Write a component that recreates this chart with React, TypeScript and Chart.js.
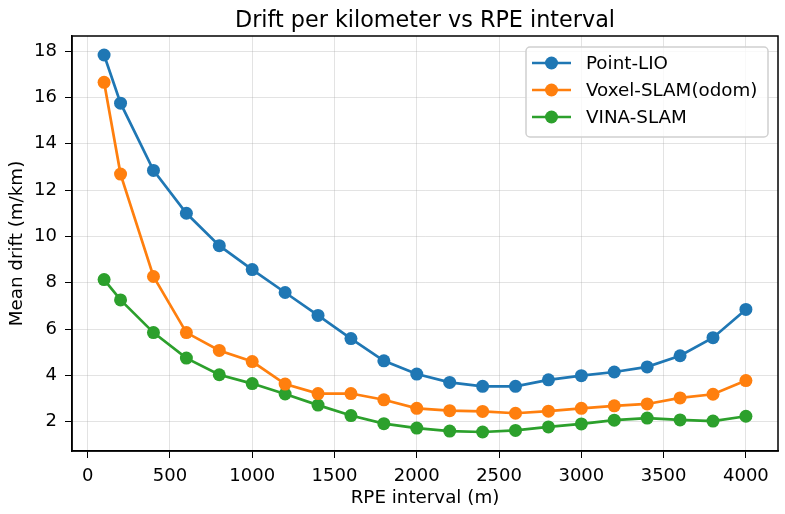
import React, { useEffect, useRef } from "react";
import { Chart, registerables } from "chart.js";

Chart.register(...registerables);

const rpeIntervals = [100, 200, 400, 600, 800, 1000, 1200, 1400, 1600, 1800, 2000, 2200, 2400, 2600, 2800, 3000, 3200, 3400, 3600, 3800, 4000];
const pointLio = [17.83, 15.75, 12.85, 11.0, 9.6, 8.57, 7.58, 6.59, 5.59, 4.63, 4.06, 3.7, 3.53, 3.53, 3.81, 3.99, 4.15, 4.37, 4.85, 5.63, 6.85];
const voxelSlam = [16.65, 12.69, 8.27, 5.85, 5.08, 4.6, 3.63, 3.22, 3.22, 2.95, 2.58, 2.48, 2.45, 2.37, 2.46, 2.58, 2.69, 2.77, 3.03, 3.19, 3.78];
const vinaSlam = [8.14, 7.26, 5.85, 4.75, 4.03, 3.65, 3.2, 2.72, 2.27, 1.92, 1.73, 1.6, 1.56, 1.63, 1.78, 1.91, 2.07, 2.16, 2.08, 2.03, 2.24];
const xTicks = [0, 500, 1000, 1500, 2000, 2500, 3000, 3500, 4000];
const yTicks = [2, 4, 6, 8, 10, 12, 14, 16, 18];
const seriesNames = ["Point-LIO", "Voxel-SLAM(odom)", "VINA-SLAM"];
const seriesColors = ["#1f77b4", "#ff7f0e", "#2ca02c"];
const titleText = "Drift per kilometer vs RPE interval";
const xLabel = "RPE interval (m)";
const yLabel = "Mean drift (m/km)";

const FONT = "'DejaVu Sans', sans-serif";

export default function App() {
  const ref = useRef<HTMLCanvasElement | null>(null);
  useEffect(() => {
    document.body.style.margin = "0";
    const canvas = ref.current;
    if (!canvas) return;
    const allSeries = [pointLio, voxelSlam, vinaSlam];
    const datasets = allSeries.map((s, i) => ({
      label: seriesNames[i],
      data: s.map((v, j) => ({ x: rpeIntervals[j], y: v })),
      borderColor: seriesColors[i],
      backgroundColor: seriesColors[i],
      borderWidth: 2.7,
      pointRadius: 6.5,
      pointBorderWidth: 0,
      pointHoverRadius: 6.5,
      tension: 0,
    }));

    const framePlugin = {
      id: "frame",
      afterDatasetsDraw(chart: any) {
        const { ctx, chartArea } = chart;
        ctx.save();
        ctx.strokeStyle = "#000";
        ctx.lineWidth = 1.5;
        ctx.strokeRect(chartArea.left, chartArea.top, chartArea.right - chartArea.left, chartArea.bottom - chartArea.top);
        // title
        ctx.fillStyle = "#000";
        ctx.font = `22.3px ${FONT}`;
        ctx.textAlign = "center";
        ctx.textBaseline = "alphabetic";
        ctx.fillText(titleText, (chartArea.left + chartArea.right) / 2, 27);
        // legend
        const bx = 526, by = 47, bw = 242, bh = 90;
        ctx.fillStyle = "rgba(255,255,255,0.8)";
        ctx.strokeStyle = "#d0d0d0";
        ctx.lineWidth = 1.5;
        ctx.beginPath();
        (ctx as any).roundRect(bx, by, bw, bh, 4);
        ctx.fill();
        ctx.stroke();
        const rows = [63, 90, 117];
        ctx.font = `18.3px ${FONT}`;
        ctx.textAlign = "left";
        ctx.textBaseline = "middle";
        seriesNames.forEach((n, i) => {
          ctx.strokeStyle = seriesColors[i];
          ctx.lineWidth = 2.7;
          ctx.beginPath();
          ctx.moveTo(532, rows[i]);
          ctx.lineTo(571, rows[i]);
          ctx.stroke();
          ctx.fillStyle = seriesColors[i];
          ctx.beginPath();
          ctx.arc(551.5, rows[i], 6.5, 0, Math.PI * 2);
          ctx.fill();
          ctx.fillStyle = "#000";
          ctx.fillText(n, 586, rows[i] + 1);
        });
        ctx.restore();
      },
    };

    const chart = new Chart(canvas, {
      type: "line",
      data: { datasets },
      plugins: [framePlugin],
      options: {
        animation: false,
        responsive: false,
        maintainAspectRatio: false,
        devicePixelRatio: 1,
        layout: { padding: { top: 36, right: 7, left: 0, bottom: 0 } },
        plugins: {
          legend: { display: false },
          title: { display: false },
          tooltip: { enabled: false },
        },
        scales: {
          x: {
            type: "linear",
            min: -95,
            max: 4195,
            afterBuildTicks: (scale: any) => {
              scale.ticks = xTicks.map((v) => ({ value: v }));
            },
            afterFit: (scale: any) => {
              scale.height = 63;
            },
            grid: {
              color: "rgba(176,176,176,0.35)",
              lineWidth: 1,
              tickColor: "#000",
              tickLength: 7,
            },
            border: { color: "#000", width: 1.5 },
            ticks: {
              color: "#000",
              font: { family: FONT, size: 18 },
              padding: 8,
              maxRotation: 0,
              autoSkip: false,
              callback: (v: any) => String(v),
            },
            title: {
              display: true,
              text: xLabel,
              color: "#000",
              font: { family: FONT, size: 18.3 },
              padding: { top: 0, bottom: 5 },
            },
          },
          y: {
            type: "linear",
            min: 0.74,
            max: 18.65,
            afterBuildTicks: (scale: any) => {
              scale.ticks = yTicks.map((v) => ({ value: v }));
            },
            afterFit: (scale: any) => {
              scale.width = 72;
            },
            grid: {
              color: "rgba(176,176,176,0.35)",
              lineWidth: 1,
              tickColor: "#000",
              tickLength: 7,
            },
            border: { color: "#000", width: 1.5 },
            ticks: {
              color: "#000",
              font: { family: FONT, size: 18 },
              padding: 8,
              autoSkip: false,
              callback: (v: any) => String(v),
            },
            title: {
              display: true,
              text: yLabel,
              color: "#000",
              font: { family: FONT, size: 18.3 },
              padding: { top: 6, bottom: 0 },
            },
          },
        },
      },
    });
    return () => chart.destroy();
  }, []);
  return (
    <div style={{ position: "fixed", left: 0, top: 0, width: 785, height: 514, background: "#fff" }}>
      <canvas ref={ref} width={785} height={514} style={{ width: 785, height: 514, display: "block" }} />
    </div>
  );
}
